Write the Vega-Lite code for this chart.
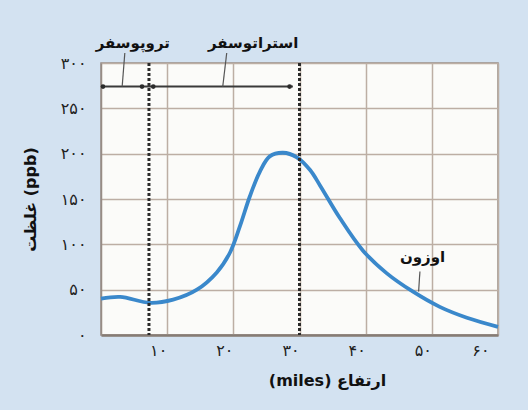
{
  "$schema": "https://vega.github.io/schema/vega-lite/v6.json",
  "width": 397,
  "height": 272,
  "autosize": {"type": "none"},
  "padding": {"left": 101, "top": 63, "right": 30, "bottom": 75},
  "background": "#d3e2f1",
  "config": {
    "view": {"fill": "#fbfbf9", "stroke": "#978c85", "strokeWidth": 1.5},
    "font": "DejaVu Sans"
  },
  "datasets": {
    "ozone": [
      {"miles": 0, "ppb": 40},
      {"miles": 2.9, "ppb": 42},
      {"miles": 7.4, "ppb": 35.5},
      {"miles": 10.9, "ppb": 39},
      {"miles": 14.5, "ppb": 50},
      {"miles": 17.5, "ppb": 69},
      {"miles": 19.5, "ppb": 91},
      {"miles": 21, "ppb": 120},
      {"miles": 22.5, "ppb": 153},
      {"miles": 24, "ppb": 180},
      {"miles": 25.5, "ppb": 197},
      {"miles": 27.5, "ppb": 201},
      {"miles": 29.6, "ppb": 196},
      {"miles": 31.6, "ppb": 182},
      {"miles": 33.1, "ppb": 165},
      {"miles": 36.1, "ppb": 129},
      {"miles": 39.6, "ppb": 93},
      {"miles": 43.2, "ppb": 68},
      {"miles": 47.1, "ppb": 48},
      {"miles": 51.2, "ppb": 31},
      {"miles": 55.3, "ppb": 19},
      {"miles": 60, "ppb": 9}
    ],
    "bounds": [{"miles": 7.25}, {"miles": 30}],
    "bracket": [{"miles": 0.2, "miles2": 29, "ppb": 274}],
    "heads": [{"miles": 0.3, "ppb": 274}, {"miles": 6.2, "ppb": 274}, {"miles": 7.9, "ppb": 274}, {"miles": 28.5, "ppb": 274}],
    "leaders": [
      {"miles": 3.6, "ppb": 311, "miles2": 3.2, "ppb2": 274},
      {"miles": 19, "ppb": 311, "miles2": 18.4, "ppb2": 274},
      {"miles": 48.2, "ppb": 70, "miles2": 48.0, "ppb2": 48}
    ],
    "labels": [
      {"label": "تروپوسفر", "miles": 4.8, "ppb": 322},
      {"label": "استراتوسفر", "miles": 23, "ppb": 322},
      {"label": "اوزون", "miles": 48.6, "ppb": 86}
    ]
  },
  "layer": [
    {
      "data": {"name": "ozone"},
      "mark": {"type": "line", "interpolate": "catmull-rom", "color": "#3a88cb", "strokeWidth": 3.8},
      "encoding": {
        "x": {
          "field": "miles", "type": "quantitative",
          "scale": {"domain": [0, 60], "nice": false},
          "axis": {
            "values": [10, 20, 30, 40, 50, 60],
            "grid": true, "gridColor": "#bcaea4", "gridWidth": 1.5,
            "ticks": false,
            "domainColor": "#867c75", "domainWidth": 2.5,
            "labelExpr": "({'10':'۱۰','20':'۲۰','30':'۳۰','40':'۴۰','50':'۵۰','60':'۶۰'})[datum.label]",
            "labelFontSize": 16, "labelColor": "#222222", "labelPadding": 7, "labelOffset": -9,
            "title": "(miles) ارتفاع",
            "titleFontSize": 16, "titleFontWeight": "bold", "titleColor": "#111111", "titlePadding": 14,
            "titleX": 226
          }
        },
        "y": {
          "field": "ppb", "type": "quantitative",
          "scale": {"domain": [0, 300], "nice": false},
          "axis": {
            "values": [0, 50, 100, 150, 200, 250, 300],
            "grid": true, "gridColor": "#bcaea4", "gridWidth": 1.5,
            "ticks": false,
            "domainColor": "#978c85", "domainWidth": 1.5,
            "labelExpr": "({'0':'۰','50':'۵۰','100':'۱۰۰','150':'۱۵۰','200':'۲۰۰','250':'۲۵۰','300':'۳۰۰'})[datum.label]",
            "labelFontSize": 16, "labelColor": "#222222", "labelPadding": 15,
            "title": "غلظت (ppb)",
            "titleFontSize": 16, "titleFontWeight": "bold", "titleColor": "#111111", "titlePadding": 22
          }
        }
      }
    },
    {
      "data": {"name": "bounds"},
      "mark": {"type": "rule", "color": "#2b2b2b", "strokeWidth": 3, "strokeDash": [3, 2]},
      "encoding": {"x": {"field": "miles", "type": "quantitative"}}
    },
    {
      "data": {"name": "bracket"},
      "mark": {"type": "rule", "color": "#3a3a3a", "strokeWidth": 2},
      "encoding": {
        "x": {"field": "miles", "type": "quantitative"},
        "x2": {"field": "miles2"},
        "y": {"field": "ppb", "type": "quantitative"}
      }
    },
    {
      "data": {"name": "heads"},
      "mark": {"type": "point", "filled": true, "color": "#2b2b2b", "size": 22, "opacity": 1},
      "encoding": {
        "x": {"field": "miles", "type": "quantitative"},
        "y": {"field": "ppb", "type": "quantitative"}
      }
    },
    {
      "data": {"name": "leaders"},
      "mark": {"type": "rule", "color": "#555555", "strokeWidth": 1.2},
      "encoding": {
        "x": {"field": "miles", "type": "quantitative"},
        "y": {"field": "ppb", "type": "quantitative"},
        "x2": {"field": "miles2"},
        "y2": {"field": "ppb2"}
      }
    },
    {
      "data": {"name": "labels"},
      "mark": {"type": "text", "font": "DejaVu Sans", "fontSize": 15, "fontWeight": "bold", "color": "#111111", "baseline": "middle", "align": "center"},
      "encoding": {
        "x": {"field": "miles", "type": "quantitative"},
        "y": {"field": "ppb", "type": "quantitative"},
        "text": {"field": "label"}
      }
    }
  ]
}
